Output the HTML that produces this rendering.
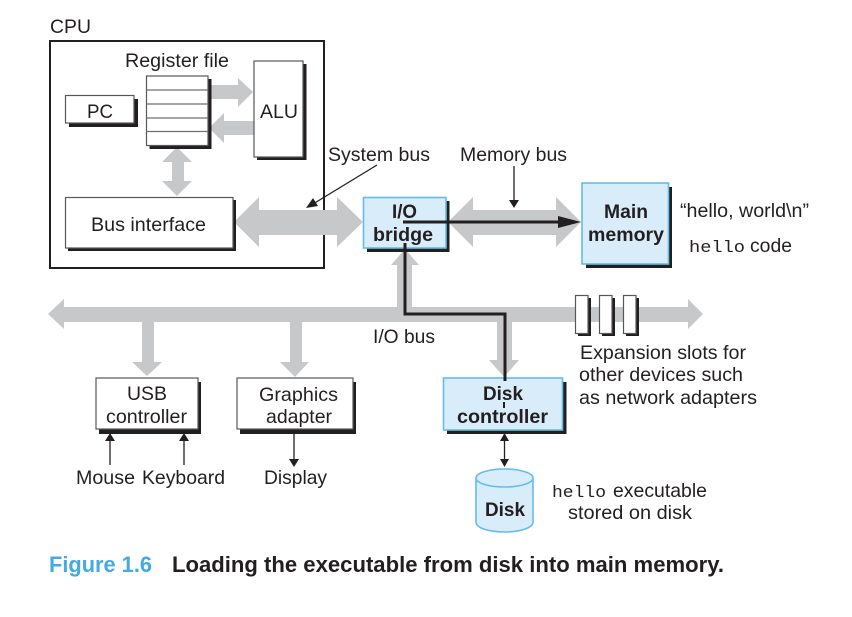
<!DOCTYPE html>
<html><head><meta charset="utf-8"><style>
html,body{margin:0;padding:0;background:#fff;width:852px;height:617px;overflow:hidden}
svg{display:block}
text{font-family:"Liberation Sans",sans-serif;font-size:19.5px;fill:#231f20}
.b{font-weight:bold}
.m{font-family:"Liberation Mono",monospace;font-size:17px}
.g{fill:#c6c8ca}
.s{fill:#231f20}
.w{fill:#fff;stroke:#55585a;stroke-width:1.2}
.l{fill:#d9ecfa;stroke:#62bdea;stroke-width:1.6}
.t{stroke:#231f20;stroke-width:1.3;fill:none}
.k{stroke:#231f20;stroke-width:3;fill:none}
</style></head><body>
<svg width="852" height="617" viewBox="0 0 852 617" xmlns="http://www.w3.org/2000/svg">
<rect width="852" height="617" fill="#fff"/>
<!-- CPU -->
<rect x="50" y="41" width="274" height="227" fill="#fff" stroke="#231f20" stroke-width="2"/>
<!-- gray arrows in CPU -->
<polygon class="g" points="209,85 238,85 238,78 253,92 238,107 238,99 209,99"/>
<polygon class="g" points="254,121 224,121 224,113 209,128 224,143 224,135 254,135"/>
<polygon class="g" points="177,147 192,162 184,162 184,181 192,181 177,196 162,181 172,181 172,162 162,162"/>
<!-- system bus -->
<polygon class="g" points="234,222 259,197 259,210 337,210 337,197 363,222 337,247 337,235 259,235 259,247"/>
<!-- memory bus -->
<polygon class="g" points="448,222 473,197 473,210 556,210 556,197 581,222 556,247 556,235 473,235 473,247"/>
<!-- IO bus -->
<polygon class="g" points="48,314 64,299 64,307 397,307 397,265 391,265 405,249 419,265 412,265 412,307 688,307 688,299 703,314 688,329 688,322 512,322 512,360 519,360 504,377 489,360 497,360 497,322 154,322 154,362 162,362 147,376 132,362 142,362 142,322 64,322 64,329"/>
<polygon class="g" points="290,322 302,322 302,362 309,362 295,377 280,362 290,362"/>
<!-- register file -->
<rect class="s" x="149.5" y="79" width="62" height="70"/>
<rect class="w" x="146.5" y="76" width="61.5" height="69.5"/>
<path d="M146.5 90H208M146.5 104H208M146.5 118H208M146.5 131.5H208" stroke="#6d7072" stroke-width="1.2" fill="none"/>
<!-- PC -->
<rect class="s" x="69" y="99" width="69" height="28"/>
<rect class="w" x="65.5" y="95.5" width="68.5" height="27.5"/>
<!-- ALU -->
<rect class="s" x="257" y="64" width="49.5" height="96"/>
<rect class="w" x="254" y="61" width="49" height="96"/>
<!-- Bus interface -->
<rect class="s" x="68" y="200" width="168" height="51"/>
<rect class="w" x="65.5" y="197.5" width="167.5" height="50.5"/>
<!-- I/O bridge -->
<rect class="s" x="367" y="201" width="82.5" height="51"/>
<rect class="l" x="363.5" y="197.5" width="82.5" height="50.5"/>
<!-- Main memory -->
<rect class="s" x="586" y="187" width="86" height="81"/>
<rect class="l" x="582" y="183" width="86.5" height="81"/>
<!-- Slots -->
<rect class="s" x="578" y="298" width="13" height="38"/><rect class="w" x="575.5" y="295.5" width="12.5" height="38"/>
<rect class="s" x="602" y="298" width="13" height="38"/><rect class="w" x="599.5" y="295.5" width="12.5" height="38"/>
<rect class="s" x="626" y="298" width="13" height="38"/><rect class="w" x="623.5" y="295.5" width="12.5" height="38"/>
<!-- USB, Graphics -->
<rect class="s" x="99" y="382" width="102" height="52"/>
<rect class="w" x="96" y="378" width="102" height="51"/>
<rect class="s" x="240" y="382" width="116" height="52"/>
<rect class="w" x="237" y="378" width="116" height="51"/>
<!-- Disk controller -->
<rect class="s" x="447" y="382" width="119.5" height="52"/>
<rect class="l" x="443.5" y="378" width="119" height="52"/>
<!-- Disk -->
<path d="M476 478V522C476 528 489 532 504.500 532C520 532 533 528 533 522V478" fill="#d9ecfa" stroke="#62bdea" stroke-width="1.6"/>
<ellipse cx="504.500" cy="478" rx="28.500" ry="9" fill="#d9ecfa" stroke="#62bdea" stroke-width="1.6"/>
<!-- black bus lines -->
<path class="k" d="M403 222H560"/>
<polygon class="s" points="558,216 581,222 558,228"/>
<path class="k" d="M405 243V314H505V381"/>
<path d="M504 402V408" stroke="#231f20" stroke-width="2" fill="none"/>
<!-- thin arrows -->
<path class="t" d="M514 166V202"/><polygon class="s" points="509,200 519,200 514,208"/>
<path class="t" d="M377 165L313 204"/><polygon class="s" points="306,208 313,198 318,206"/>
<path class="t" d="M110 465V438"/><polygon class="s" points="105,441 115,441 110,433"/>
<path class="t" d="M184 465V438"/><polygon class="s" points="179,441 189,441 184,433"/>
<path class="t" d="M294 431V461"/><polygon class="s" points="289,459 299,459 294,467"/>
<path class="t" d="M504.500 438V462"/><polygon class="s" points="500,441 509,441 504.500,433"/><polygon class="s" points="500,459 509,459 504.500,467"/>
<!-- text -->
<text x="50" y="33" textLength="41" lengthAdjust="spacingAndGlyphs">CPU</text>
<text x="125" y="67" textLength="104" lengthAdjust="spacingAndGlyphs">Register file</text>
<text x="87" y="118" textLength="26" lengthAdjust="spacingAndGlyphs">PC</text>
<text x="260" y="118" textLength="38" lengthAdjust="spacingAndGlyphs">ALU</text>
<text x="91" y="231" textLength="115" lengthAdjust="spacingAndGlyphs">Bus interface</text>
<text x="328" y="161" textLength="102" lengthAdjust="spacingAndGlyphs">System bus</text>
<text x="460" y="161" textLength="107" lengthAdjust="spacingAndGlyphs">Memory bus</text>
<text class="b" x="392" y="218" textLength="25" lengthAdjust="spacingAndGlyphs">I/O</text>
<text class="b" x="373" y="241" textLength="60" lengthAdjust="spacingAndGlyphs">bridge</text>
<text class="b" x="604" y="218" textLength="44" lengthAdjust="spacingAndGlyphs">Main</text>
<text class="b" x="588" y="241" textLength="76" lengthAdjust="spacingAndGlyphs">memory</text>
<text x="680" y="217" textLength="129" lengthAdjust="spacingAndGlyphs">“hello, world\n”</text>
<text class="m" x="689" y="252" textLength="56" lengthAdjust="spacingAndGlyphs">hello</text>
<text x="750" y="252" textLength="42" lengthAdjust="spacingAndGlyphs">code</text>
<text x="373" y="343" textLength="62" lengthAdjust="spacingAndGlyphs">I/O bus</text>
<text x="580" y="359" textLength="166" lengthAdjust="spacingAndGlyphs">Expansion slots for</text>
<text x="579" y="381" textLength="164" lengthAdjust="spacingAndGlyphs">other devices such</text>
<text x="579" y="404" textLength="178" lengthAdjust="spacingAndGlyphs">as network adapters</text>
<text x="127" y="400" textLength="40" lengthAdjust="spacingAndGlyphs">USB</text>
<text x="106" y="423" textLength="81" lengthAdjust="spacingAndGlyphs">controller</text>
<text x="259" y="401" textLength="79" lengthAdjust="spacingAndGlyphs">Graphics</text>
<text x="266" y="423" textLength="66" lengthAdjust="spacingAndGlyphs">adapter</text>
<text x="76" y="484" textLength="59" lengthAdjust="spacingAndGlyphs">Mouse</text>
<text x="142" y="484" textLength="83" lengthAdjust="spacingAndGlyphs">Keyboard</text>
<text x="264" y="484" textLength="63" lengthAdjust="spacingAndGlyphs">Display</text>
<text class="b" x="483" y="400" textLength="40" lengthAdjust="spacingAndGlyphs">Disk</text>
<text class="b" x="457" y="423" textLength="91" lengthAdjust="spacingAndGlyphs">controller</text>
<text class="b" x="485" y="516" textLength="40" lengthAdjust="spacingAndGlyphs">Disk</text>
<text class="m" x="552" y="497" textLength="54" lengthAdjust="spacingAndGlyphs">hello</text>
<text x="613" y="497" textLength="94" lengthAdjust="spacingAndGlyphs">executable</text>
<text x="568" y="519" textLength="124" lengthAdjust="spacingAndGlyphs">stored on disk</text>
<text class="b" x="49" y="572" textLength="103" lengthAdjust="spacingAndGlyphs" style="fill:#45a9e2;font-size:22px">Figure 1.6</text>
<text class="b" x="172" y="572" textLength="552" lengthAdjust="spacingAndGlyphs" style="font-size:22px">Loading the executable from disk into main memory.</text>
</svg>
</body></html>
